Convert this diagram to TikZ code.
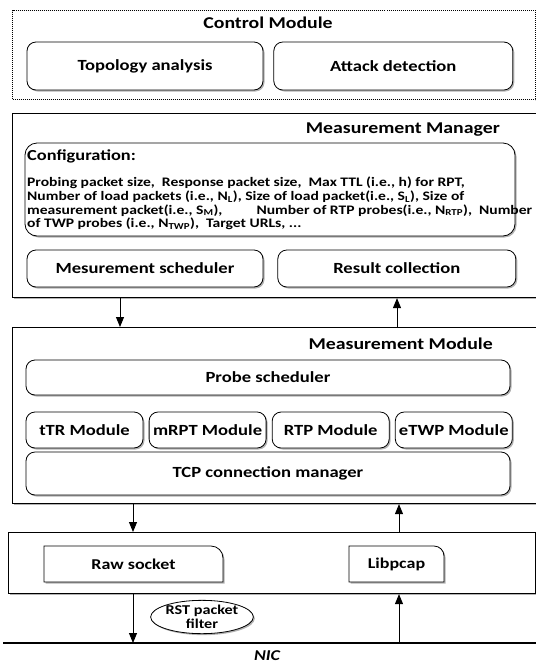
\documentclass[tikz,border=0pt]{standalone}
\usepackage{fontspec}
\setmainfont{Carlito}[FakeStretch=1.2]
\usetikzlibrary{arrows.meta,positioning,shapes.geometric,shadows}

\begin{document}
\begin{tikzpicture}[
  x=1pt, y=1pt,
  node distance=5pt and 5pt,
  shade/.style={drop shadow={shadow xshift=1.5pt, shadow yshift=-1.5pt, opacity=0.6}},
  layer/.style={draw, line width=1.1pt, fill=white, anchor=north west, inner sep=0pt, shade},
  box/.style={
    draw,
    rounded corners=9pt,
    line width=0.8pt,
    fill=white,
    shade,
    inner sep=1pt,
    font=\bfseries\fontsize{15.5}{18}\selectfont
  },
  tabbox/.style={draw, line width=0.8pt, fill=white, shade},
  title/.style={font=\bfseries\fontsize{16.5}{20}\selectfont, inner sep=0pt},
  arrow/.style={-{Triangle[length=10pt,width=8pt]}, line width=1pt}
]
  \useasboundingbox (0,0) rectangle (536,-665);

  % control module
  \node[draw, densely dotted, line width=1pt, anchor=north west, minimum width=523pt, minimum height=89pt] (ctrl) at (12,-10) {};
  \node[title] (ctrltitle) at (268,-23) {Control Module};
  \node[box, minimum width=236pt, minimum height=48pt] (topo) at (145,-66) {Topology analysis};
  \node[box, minimum width=239pt, minimum height=48pt, right=10pt of topo] (attack) {Attack detection};

  % measurement manager
  \node[layer, minimum width=526pt, minimum height=184pt] (mm) at (12,-113) {};
  \node[title, anchor=east] (mmtitle) at (500,-130) {Measurement Manager};
  \node[box, rounded corners=12pt, minimum width=490pt, minimum height=93pt] (conf) at (270,-189.5) {};
  \node[anchor=west, inner sep=1pt, font=\bfseries\fontsize{15.3}{17}\selectfont] (conftitle) at (26,-156) {Configuration:};
  \node[anchor=north west, align=left, inner sep=1pt, font=\bfseries\fontsize{13}{13.6}\selectfont] (conftext) at (26,-176) {%
    Probing packet size,\ \ Response packet size,\ \ Max TTL (i.e., h) for RPT,\\
    Number of load packets (i.e., N\textsubscript{L}), Size of load packet(i.e., S\textsubscript{L}), Size of\\
    measurement packet(i.e., S\textsubscript{M}),\hspace{34pt}Number of RTP probes(i.e., N\textsubscript{RTP}),\ \ Number\\
    of TWP probes (i.e., N\textsubscript{TWP}),\ \ Target URLs, ...};
  \node[box, minimum width=236pt, minimum height=37pt] (msched) at (145,-268.5) {Mesurement scheduler};
  \node[box, minimum width=238pt, minimum height=37pt, right=14pt of msched] (result) {Result collection};

  % measurement module
  \node[layer, minimum width=526pt, minimum height=176pt] (mmod) at (12,-327) {};
  \node[title, anchor=east] (mmodtitle) at (493,-344) {Measurement Module};
  \node[box, minimum width=484pt, minimum height=35pt] (probe) at (268,-377.5) {Probe scheduler};
  \node[box, minimum width=117pt, minimum height=36pt] (ttr) at (84.5,-430) {tTR Module};
  \node[box, minimum width=117pt, minimum height=36pt, right=5.3pt of ttr] (mrpt) {mRPT Module};
  \node[box, minimum width=117pt, minimum height=36pt, right=5.3pt of mrpt] (rtp) {RTP Module};
  \node[box, minimum width=117pt, minimum height=36pt, right=5.3pt of rtp] (etwp) {eTWP Module};
  \node[box, minimum width=484pt, minimum height=43pt] (tcp) at (268,-473.5) {TCP connection manager};

  \draw[arrow] ([xshift=108pt]mm.south west) -- ([xshift=108pt]mmod.north west);
  \draw[arrow] ([xshift=385pt]mmod.north west) -- ([xshift=385pt]mm.south west);

  % socket layer
  \node[layer, minimum width=527pt, minimum height=61pt] (sock) at (8,-532) {};
  \path[tabbox] (44,-546) -- (211,-546) arc[start angle=90, end angle=0, radius=12pt] -- (223,-582) -- (44,-582) -- cycle;
  \node[font=\bfseries\fontsize{15}{18}\selectfont] (raw) at (133.5,-564) {Raw socket};
  \path[tabbox] (349,-546) -- (434,-546) arc[start angle=90, end angle=0, radius=10pt] -- (444,-582) -- (349,-582) -- cycle;
  \node[font=\bfseries\fontsize{15}{18}\selectfont] (libpcap) at (396.5,-564) {Libpcap};

  \draw[arrow] ([xshift=121pt]mmod.south west) -- ([xshift=125pt]sock.north west);
  \draw[arrow] ([xshift=391pt]sock.north west) -- ([xshift=387pt]mmod.south west);

  % NIC
  \draw[line width=2.5pt] (3,-643) coordinate (nicL) -- (536,-643) coordinate (nicR);
  \node[inner sep=0pt, font=\bfseries\itshape\fontsize{15}{17}\selectfont] (nic) at (267,-656) {NIC};
  \coordinate (rawdown) at ([xshift=125pt]sock.south west);
  \coordinate (libup) at ([xshift=391pt]sock.south west);
  \draw[arrow] (rawdown) -- (rawdown |- nicL);
  \draw[arrow] (libup |- nicL) -- (libup);
  \node[draw, ellipse, line width=0.8pt, fill=white, shade, minimum width=95pt, minimum height=33pt, inner sep=0pt, align=center, font=\bfseries\fontsize{13.5}{14}\selectfont] (rst) at (202,-617) {RST packet\\filter};
\end{tikzpicture}
\end{document}
